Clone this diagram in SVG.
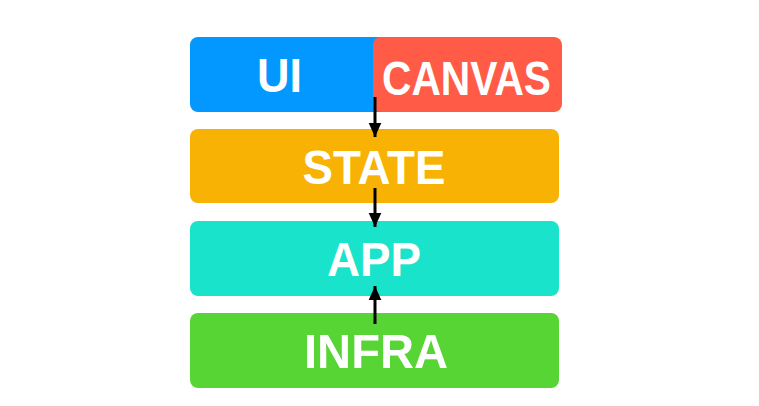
<svg xmlns="http://www.w3.org/2000/svg" width="759" height="406" viewBox="0 0 759 406">
<style>
.lbl{font-family:"Liberation Sans",Arial,sans-serif;font-weight:bold;font-size:49px;fill:#fff;text-anchor:middle}
.edge{stroke:#000;stroke-width:3;fill:none}
</style>
<defs>
<marker id="ah" viewBox="0 0 10 10" refX="10" refY="5" markerWidth="14" markerHeight="14" markerUnits="userSpaceOnUse" orient="auto">
<path d="M0,0.5 L10,5 L0,9.5 Z" fill="#000"/>
</marker>
</defs>
<rect width="759" height="406" fill="#fff"/>
<g id="ui">
<rect x="190" y="37" width="230" height="75" rx="8" fill="#0398FF"/>
<text class="lbl" x="279.5" y="92" textLength="45" lengthAdjust="spacingAndGlyphs">UI</text>
</g>
<g id="canvas">
<rect x="373" y="37" width="189" height="75" rx="8" fill="#FF5B47"/>
<text class="lbl" x="466.5" y="95" textLength="169" lengthAdjust="spacingAndGlyphs">CANVAS</text>
</g>
<g id="state">
<rect x="190" y="129" width="369" height="74" rx="8" fill="#F7B204"/>
<text class="lbl" x="374" y="184" textLength="143" lengthAdjust="spacingAndGlyphs">STATE</text>
</g>
<g id="app">
<rect x="190" y="221" width="369" height="75" rx="8" fill="#1AE3CB"/>
<text class="lbl" x="374" y="276" textLength="94" lengthAdjust="spacingAndGlyphs">APP</text>
</g>
<g id="infra">
<rect x="190" y="313" width="369" height="75" rx="8" fill="#57D534"/>
<text class="lbl" x="376" y="368" textLength="144" lengthAdjust="spacingAndGlyphs">INFRA</text>
</g>
<g id="connectors">
<line class="edge" x1="375" y1="97" x2="375" y2="137" marker-end="url(#ah)"/>
<line class="edge" x1="375" y1="188" x2="375" y2="227" marker-end="url(#ah)"/>
<line class="edge" x1="375" y1="324" x2="375" y2="286" marker-end="url(#ah)"/>
</g>
</svg>
